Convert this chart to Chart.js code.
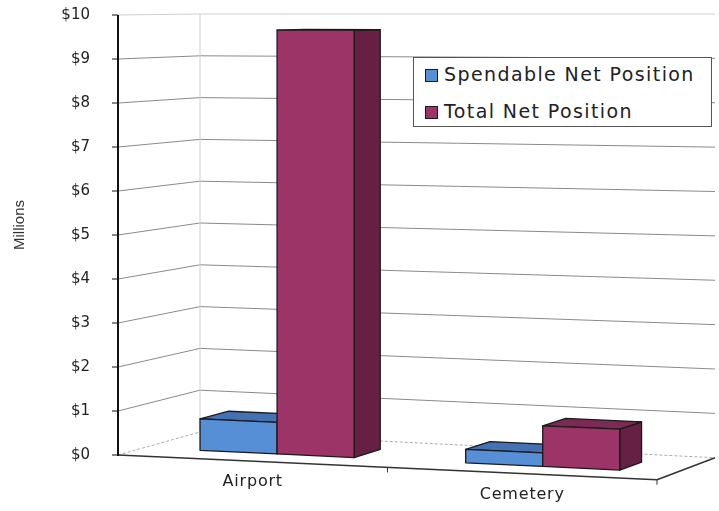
<!DOCTYPE html>
<html>
<head>
<meta charset="utf-8">
<script src="https://cdn.jsdelivr.net/npm/chart.js@4.4.1/dist/chart.umd.min.js"></script>
<style>
  html, body { margin: 0; padding: 0; background: #fff; }
  #wrap { position: relative; width: 719px; height: 511px; }
  #legend {
    position: absolute; left: 413px; top: 57px; width: 299px; height: 70px;
    box-sizing: border-box; border: 1px solid #555; background: #fff;
    font-family: "DejaVu Sans", sans-serif; font-size: 19px; letter-spacing: 1.4px; color: #222;
  }
  .item { position: absolute; left: 11px; height: 24px; line-height: 24px; white-space: nowrap; }
  .sw { display: inline-block; width: 11px; height: 11px; border: 1px solid #1a1a1a; margin-right: 6px; vertical-align: -1px; }
</style>
</head>
<body>
<div id="wrap">
  <canvas id="myChart" width="719" height="511"></canvas>
  <div id="legend"></div>
</div>
<script>
const categories = ['Airport', 'Cemetery'];
const spendable = [0.72, 0.3];
const totalNet = [9.65, 0.9];
const yTickLabels = ['$0', '$1', '$2', '$3', '$4', '$5', '$6', '$7', '$8', '$9', '$10'];
const seriesNames = ['Spendable Net Position', 'Total Net Position'];

// bars sit in the middle of the box depth
const barDepth = [0.32, 0.68];

// front plane -> screen, d = 0 front, 1 back wall
function makeProj(area) {
  const L = area.left, R = area.right, T = area.top, B = area.bottom;
  const bL = L + 82, bR = R + 58;
  return function (x, y, d) {
    const t = (y - T) / (B - T);
    const xf = x;
    const yf = y + 0.046 * t * (x - L);
    const xb = bL + (x - L) * (bR - bL) / (R - L);
    const yb = T - 1 + 0.95 * (y - T) + 0.05 * t * (xb - bL);
    return { x: xf + (xb - xf) * d, y: yf + (yb - yf) * d };
  };
}

function line(ctx, a, b) {
  ctx.beginPath();
  ctx.moveTo(a.x, a.y);
  ctx.lineTo(b.x, b.y);
  ctx.stroke();
}

function face(ctx, pts, fill) {
  ctx.beginPath();
  ctx.moveTo(pts[0].x, pts[0].y);
  for (let i = 1; i < pts.length; i++) ctx.lineTo(pts[i].x, pts[i].y);
  ctx.closePath();
  ctx.fillStyle = fill;
  ctx.fill();
  ctx.stroke();
}

const threeD = {
  id: 'threeD',
  beforeDatasetsDraw(chart) {
    const ctx = chart.ctx;
    const a = chart.chartArea;
    const P = makeProj(a);
    const yScale = chart.scales.y;
    const xScale = chart.scales.x;
    ctx.save();

    // walls
    ctx.lineWidth = 1;
    for (let v = 0; v <= 10; v++) {
      const y = yScale.getPixelForValue(v);
      if (v === 0) {
        ctx.strokeStyle = '#aaa';
        ctx.setLineDash([3, 2]);
      } else if (v === 10) {
        ctx.strokeStyle = '#cfcfcf';
        ctx.setLineDash([]);
      } else {
        ctx.strokeStyle = '#8a8a8a';
        ctx.setLineDash([]);
      }
      line(ctx, P(a.left, y, 0), P(a.left, y, 1));
      line(ctx, P(a.left, y, 1), P(a.right, y, 1));
    }
    ctx.setLineDash([]);
    ctx.strokeStyle = '#cfcfcf';
    line(ctx, P(a.left, a.top, 1), P(a.left, a.bottom, 1));

    // floor front and right edge
    ctx.strokeStyle = '#333';
    ctx.lineWidth = 1.5;
    line(ctx, P(a.left, a.bottom, 0), P(a.right, a.bottom, 0));
    line(ctx, P(a.right, a.bottom, 0), P(a.right, a.bottom, 1));
    ctx.lineWidth = 1;
    const mid = (xScale.getPixelForValue(0) + xScale.getPixelForValue(1)) / 2;
    [mid, a.right].forEach(x => {
      const p = P(x, a.bottom, 0);
      line(ctx, p, { x: p.x, y: p.y + 5 });
    });

    // y axis + ticks
    ctx.strokeStyle = '#111';
    for (let v = 0; v <= 10; v++) {
      const y = yScale.getPixelForValue(v);
      line(ctx, { x: a.left - 6, y: y }, { x: a.left, y: y });
    }
    ctx.lineWidth = 2;
    line(ctx, P(a.left, a.top, 0), P(a.left, a.bottom + 1, 0));

    // bars
    ctx.lineWidth = 1.3;
    ctx.strokeStyle = '#1a1a1a';
    ctx.lineJoin = 'round';
    const d0 = barDepth[0], d1 = barDepth[1];
    for (let i = 0; i < categories.length; i++) {
      chart.data.datasets.forEach((ds, di) => {
        const el = chart.getDatasetMeta(di).data[i];
        const { x, y, base, width } = el.getProps(['x', 'y', 'base', 'width'], true);
        const x0 = x - width / 2, x1 = x + width / 2;
        face(ctx, [P(x1, y, d0), P(x1, y, d1), P(x1, base, d1), P(x1, base, d0)], ds.sideColor);
        face(ctx, [P(x0, y, d0), P(x1, y, d0), P(x1, y, d1), P(x0, y, d1)], ds.topColor);
        face(ctx, [P(x0, y, d0), P(x1, y, d0), P(x1, base, d0), P(x0, base, d0)], ds.backgroundColor);
      });
    }

    // category labels on the floor edge
    ctx.fillStyle = '#222';
    ctx.font = '16px "DejaVu Sans"';
    ctx.letterSpacing = '0.8px';
    ctx.textAlign = 'center';
    ctx.textBaseline = 'top';
    categories.forEach((c, i) => {
      const p = P(xScale.getPixelForValue(i), a.bottom, 0);
      ctx.fillText(c, p.x, p.y + 13);
    });
    ctx.letterSpacing = '0px';

    // axis title
    ctx.save();
    ctx.translate(20, 225);
    ctx.rotate(-Math.PI / 2);
    ctx.font = '15px "Liberation Sans"';
    ctx.fillStyle = '#333';
    ctx.textAlign = 'center';
    ctx.textBaseline = 'middle';
    ctx.fillText('Millions', 0, 0);
    ctx.restore();

    ctx.restore();
    return false;
  }
};

const myChart = new Chart(document.getElementById('myChart'), {
  type: 'bar',
  data: {
    labels: categories,
    datasets: [
      { label: seriesNames[0], data: spendable, backgroundColor: '#568fd6', topColor: '#4470b4', sideColor: '#345a92' },
      { label: seriesNames[1], data: totalNet, backgroundColor: '#9c3467', topColor: '#7b2a53', sideColor: '#652044' }
    ]
  },
  options: {
    responsive: false,
    animation: false,
    layout: { padding: { left: 0, right: 62, top: 15, bottom: 56 } },
    datasets: { bar: { categoryPercentage: 0.58, barPercentage: 1 } },
    scales: {
      x: { display: false },
      y: {
        min: 0, max: 10,
        ticks: {
          stepSize: 1, padding: 0, color: '#222',
          font: { family: 'DejaVu Sans', size: 15 },
          callback: v => yTickLabels[v]
        },
        grid: { display: false, drawTicks: true, tickLength: 28 },
        border: { display: false },
        afterFit: s => { s.width = 118; }
      }
    },
    plugins: { legend: { display: false }, tooltip: { enabled: false } }
  },
  plugins: [threeD]
});

const legend = document.getElementById('legend');
myChart.data.datasets.forEach((ds, i) => {
  const it = document.createElement('div');
  it.className = 'item';
  it.style.top = (4 + i * 37) + 'px';
  it.innerHTML = '<span class="sw" style="background:' + ds.backgroundColor + '"></span>' + ds.label;
  legend.appendChild(it);
});
</script>
</body>
</html>
